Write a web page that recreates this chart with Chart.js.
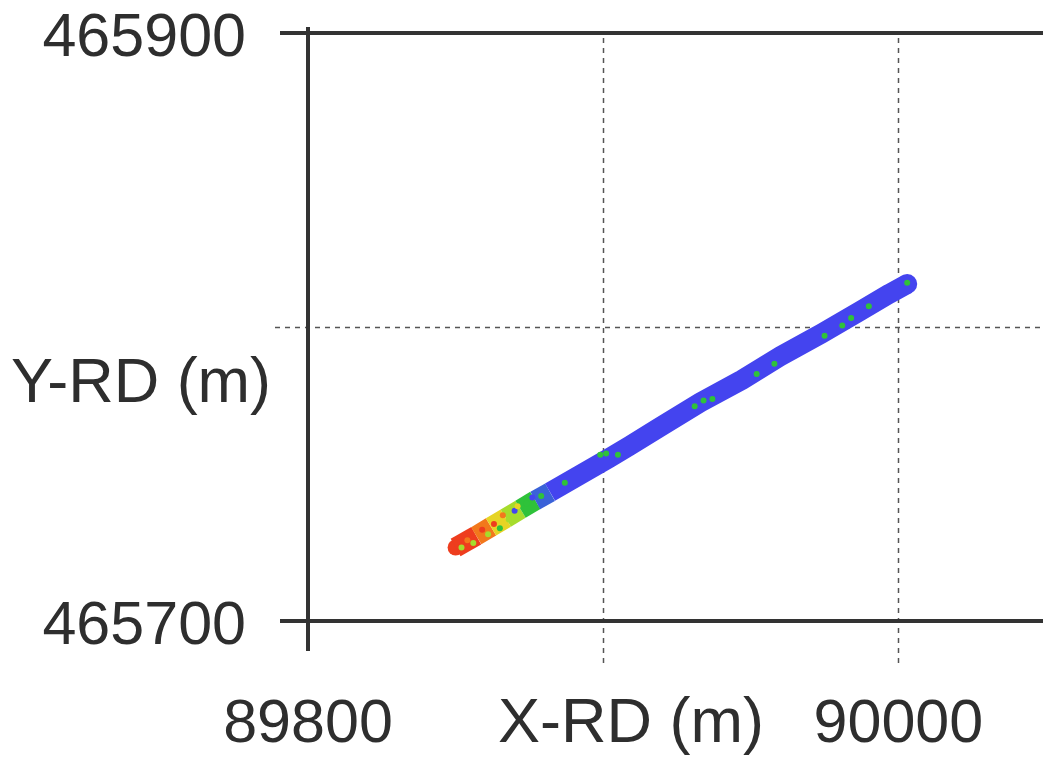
<!DOCTYPE html>
<html>
<head>
<meta charset="utf-8">
<script src="https://cdn.jsdelivr.net/npm/chart.js@4.4.1/dist/chart.umd.min.js"></script>
<style>
  html, body { margin: 0; padding: 0; background: #fff; }
  #wrap { width: 1043px; height: 760px; position: relative; }
</style>
</head>
<body>
<div id="wrap"><canvas id="chart"></canvas></div>
<script>
// track centre line (RD coordinates, m) and a colour level 0..1 per segment
const trackX = [89850, 89857, 89862, 89867, 89872, 89877, 89882, 89892, 89902, 89909, 89919, 89933, 89947, 89960, 89974, 89987, 89997, 90003];
const trackY = [465725, 465729, 465732, 465735, 465738, 465741, 465743.8, 465749.6, 465755.4, 465759.6, 465765.8, 465774.4, 465782, 465790, 465797.8, 465805.4, 465811.3, 465814.6];
const trackLevel = [0.9, 0.82, 0.68, 0.55, 0.42, 0.25, 0.1, 0.1, 0.1, 0.1, 0.1, 0.1, 0.1, 0.1, 0.1, 0.1, 0.1, 0.1];

// scattered spots inside the band
const spotX = [89852, 89854, 89856, 89859, 89861, 89863, 89865, 89866, 89868, 89870, 89871, 89874, 89876, 89879, 89887, 89899, 89901, 89905, 89931, 89934, 89937, 89952, 89958, 89975, 89981, 89984, 89990, 90003];
const spotY = [465725, 465727.5, 465726.5, 465731, 465729.5, 465733, 465731.5, 465736, 465734.5, 465737.5, 465739, 465740, 465742, 465742.5, 465747, 465756.5, 465757, 465756.5, 465773, 465775, 465775.5, 465784, 465787.5, 465797, 465800.5, 465803, 465807, 465815];
const spotLevel = [0.6, 0.75, 0.55, 0.9, 0.6, 0.88, 0.45, 0.8, 0.55, 0.1, 0.65, 0.45, 0.1, 0.45, 0.45, 0.45, 0.4, 0.4, 0.45, 0.4, 0.4, 0.4, 0.4, 0.45, 0.45, 0.4, 0.4, 0.45];

const xTicks = [89800, 89900, 90000];
const xTickLabels = ['89800', '', '90000'];
const yTicks = [465700, 465800, 465900];
const yTickLabels = ['465700', '', '465900'];
const solidX = [89800];
const solidY = [465700, 465900];
const xTitle = 'X-RD (m)';
const yTitle = 'Y-RD (m)';

function levelColour(v) {
  if (v >= 0.85) return '#ee3d1e';
  if (v >= 0.75) return '#f2781c';
  if (v >= 0.62) return '#e6d424';
  if (v >= 0.5) return '#a6dc2c';
  if (v >= 0.38) return '#2fc23a';
  if (v >= 0.18) return '#3a62d8';
  return '#4444ef';
}

const bandWidth = 20;
const tickFont = '61px "Liberation Sans", Arial, sans-serif';
const titleFont = '63px "Liberation Sans", Arial, sans-serif';

const frame = {
  id: 'frame',
  beforeDraw(chart) {
    const ctx = chart.ctx;
    ctx.save();
    ctx.fillStyle = '#fff';
    ctx.fillRect(0, 0, chart.width, chart.height);
    ctx.restore();
  },
  beforeDatasetsDraw(chart) {
    const { ctx, scales: { x, y } } = chart;
    ctx.save();
    // dashed grid
    ctx.strokeStyle = '#555';
    ctx.lineWidth = 1.5;
    ctx.setLineDash([5, 5]);
    xTicks.filter(v => !solidX.includes(v)).forEach(v => {
      const px = Math.round(x.getPixelForValue(v)) + 0.5;
      ctx.beginPath(); ctx.moveTo(px, 38); ctx.lineTo(px, 665); ctx.stroke();
    });
    yTicks.filter(v => !solidY.includes(v)).forEach(v => {
      const py = Math.round(y.getPixelForValue(v)) + 0.5;
      ctx.beginPath(); ctx.moveTo(275, py); ctx.lineTo(chart.width, py); ctx.stroke();
    });
    // solid axis lines
    ctx.setLineDash([]);
    ctx.strokeStyle = '#333';
    ctx.lineWidth = 4;
    solidY.forEach(v => {
      const py = y.getPixelForValue(v);
      ctx.beginPath(); ctx.moveTo(280, py); ctx.lineTo(chart.width, py); ctx.stroke();
    });
    solidX.forEach(v => {
      const px = x.getPixelForValue(v);
      ctx.beginPath(); ctx.moveTo(px, 27); ctx.lineTo(px, 651); ctx.stroke();
    });
    ctx.restore();
  },
  afterDraw(chart) {
    const { ctx, scales: { x, y } } = chart;
    ctx.save();
    ctx.fillStyle = '#2e2e2e';
    ctx.textBaseline = 'middle';
    ctx.font = tickFont;
    ctx.textAlign = 'right';
    yTicks.forEach((v, i) => {
      if (yTickLabels[i]) ctx.fillText(yTickLabels[i], 246, y.getPixelForValue(v) + 6);
    });
    ctx.textAlign = 'center';
    xTicks.forEach((v, i) => {
      if (xTickLabels[i]) ctx.fillText(xTickLabels[i], x.getPixelForValue(v), 725);
    });
    ctx.font = titleFont;
    ctx.fillText(xTitle, 631, 725);
    ctx.fillText(yTitle, 141, 385);
    ctx.restore();
  }
};

const last = trackX.length - 1;

new Chart(document.getElementById('chart'), {
  type: 'line',
  data: {
    datasets: [
      {
        data: spotX.map((v, i) => ({ x: v, y: spotY[i] })),
        showLine: false,
        pointRadius: 3,
        pointBorderWidth: 0,
        pointBackgroundColor: spotLevel.map(levelColour),
        order: 0
      },
      {
        data: trackX.map((v, i) => ({ x: v, y: trackY[i] })),
        borderWidth: bandWidth,
        borderCapStyle: 'butt',
        borderJoinStyle: 'round',
        borderColor: '#4444ef',
        pointRadius: 0,
        tension: 0,
        segment: {
          borderColor: c => levelColour(trackLevel[c.p0DataIndex])
        },
        order: 1
      },
      {
        // rounded ends of the track
        data: [{ x: trackX[0], y: trackY[0] }, { x: trackX[last], y: trackY[last] }],
        showLine: false,
        pointRadius: [bandWidth / 2 - 2, bandWidth / 2],
        pointBorderWidth: 0,
        pointBackgroundColor: [levelColour(trackLevel[0]), levelColour(trackLevel[last])],
        order: 2
      }
    ]
  },
  options: {
    responsive: true,
    maintainAspectRatio: false,
    animation: false,
    layout: { autoPadding: false, padding: { left: 308, right: 0, top: 27, bottom: 139 } },
    scales: {
      x: { type: 'linear', min: 89800, max: 90049, display: false },
      y: { type: 'linear', min: 465700, max: 465902, display: false }
    },
    plugins: {
      legend: { display: false },
      tooltip: { enabled: false }
    }
  },
  plugins: [frame]
});
</script>
</body>
</html>
